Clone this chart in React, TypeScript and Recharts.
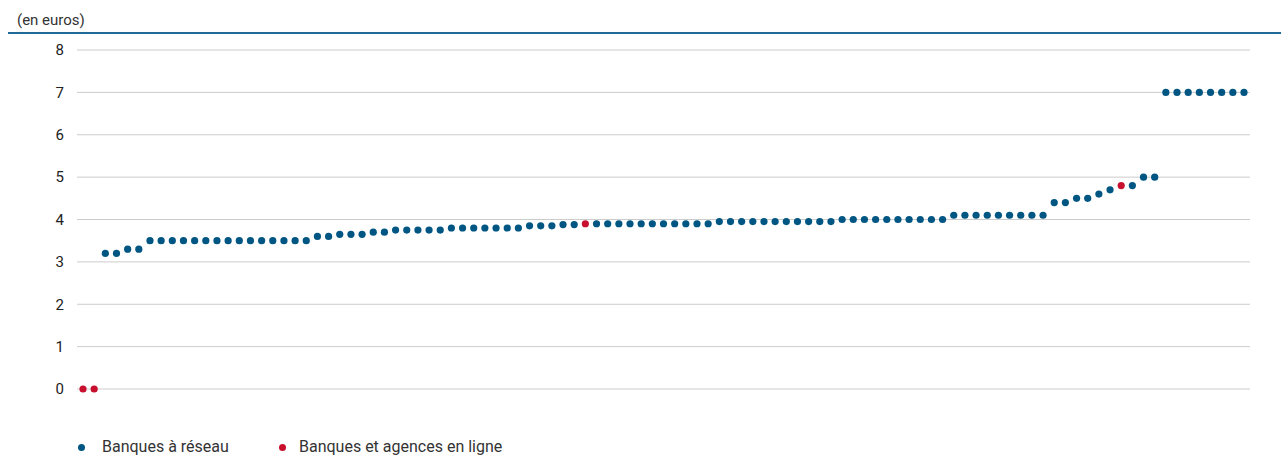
import React from "react";
import { LineChart, Line, XAxis, YAxis, CartesianGrid } from "recharts";

const categories: string[] = Array.from({ length: 105 }, (_, i) => String(i + 1));

const banquesReseau: (number | null)[] = [
  null, null, 3.2, 3.2, 3.3, 3.3,
  3.5, 3.5, 3.5, 3.5, 3.5, 3.5, 3.5, 3.5, 3.5, 3.5, 3.5, 3.5, 3.5, 3.5, 3.5,
  3.6, 3.6, 3.65, 3.65, 3.65, 3.7, 3.7,
  3.75, 3.75, 3.75, 3.75, 3.75,
  3.8, 3.8, 3.8, 3.8, 3.8, 3.8, 3.8,
  3.85, 3.85, 3.85, 3.88, 3.88, null,
  3.9, 3.9, 3.9, 3.9, 3.9, 3.9, 3.9, 3.9, 3.9, 3.9, 3.9,
  3.95, 3.95, 3.95, 3.95, 3.95, 3.95, 3.95, 3.95, 3.95, 3.95, 3.95,
  4.0, 4.0, 4.0, 4.0, 4.0, 4.0, 4.0, 4.0, 4.0, 4.0,
  4.1, 4.1, 4.1, 4.1, 4.1, 4.1, 4.1, 4.1, 4.1,
  4.4, 4.4, 4.5, 4.5, 4.6, 4.7, null, 4.8, 5.0, 5.0,
  7.0, 7.0, 7.0, 7.0, 7.0, 7.0, 7.0, 7.0,
];

const banquesEnLigne: (number | null)[] = [
  0, 0, null, null, null, null,
  null, null, null, null, null, null, null, null, null, null, null, null, null, null, null,
  null, null, null, null, null, null, null,
  null, null, null, null, null,
  null, null, null, null, null, null, null,
  null, null, null, null, null, 3.9,
  null, null, null, null, null, null, null, null, null, null, null,
  null, null, null, null, null, null, null, null, null, null, null,
  null, null, null, null, null, null, null, null, null, null,
  null, null, null, null, null, null, null, null, null,
  null, null, null, null, null, null, 4.8, null, null, null,
  null, null, null, null, null, null, null, null,
];

const yTicks = [0, 1, 2, 3, 4, 5, 6, 7, 8];
const unitLabel = "(en euros)";
const seriesNames = ["Banques à réseau", "Banques et agences en ligne"];

const BLUE = "#005682";
const RED = "#c8102e";

const data = categories.map((c, i) => ({
  name: c,
  reseau: banquesReseau[i],
  enligne: banquesEnLigne[i],
}));

const makeDot = (color: string) => (props: any) => {
  const { cx, cy, value, index } = props;
  if (value === null || value === undefined || cx == null || cy == null) {
    return <g key={`e-${color}-${index}`} />;
  }
  return <circle key={`d-${color}-${index}`} cx={cx} cy={cy} r={3.6} fill={color} stroke="none" />;
};

export default function App() {
  const font = "Roboto, 'Noto Sans', sans-serif";
  return (
    <div style={{ position: "absolute", left: 0, top: 0, width: 1281, height: 455, background: "#fff", fontFamily: font }}>
      <div style={{ position: "absolute", left: 17, top: 11, fontSize: 15, color: "#333", lineHeight: "18px" }}>
        {unitLabel}
      </div>
      <div style={{ position: "absolute", left: 8, top: 32, width: 1273, height: 2, background: "#1f6a96" }} />
      <div style={{ position: "absolute", left: 0, top: 0 }}>
        <LineChart width={1281} height={400} data={data} margin={{ top: 50, right: 31, bottom: 11, left: 0 }}>
          <CartesianGrid vertical={false} stroke="#cccccc" strokeWidth={1} />
          <XAxis dataKey="name" hide padding={{ left: 6, right: 6 }} />
          <YAxis
            domain={[0, 8]}
            ticks={yTicks}
            width={77}
            axisLine={false}
            tickLine={false}
            tickSize={0}
            tickMargin={13}
            tick={{ fill: "#222", fontSize: 15, fontFamily: font }}
            interval={0}
          />
          <Line
            dataKey="reseau"
            stroke="none"
            isAnimationActive={false}
            dot={makeDot(BLUE)}
            activeDot={false}
            connectNulls={false}
          />
          <Line
            dataKey="enligne"
            stroke="none"
            isAnimationActive={false}
            dot={makeDot(RED)}
            activeDot={false}
            connectNulls={false}
          />
        </LineChart>
      </div>
      <div style={{ position: "absolute", left: 78, top: 437, display: "flex", alignItems: "center", fontSize: 16, color: "#333", lineHeight: "20px" }}>
        <span style={{ display: "inline-block", width: 7, height: 7, borderRadius: "50%", background: BLUE, marginRight: 17 }} />
        <span style={{ width: 177 }}>{seriesNames[0]}</span>
        <span style={{ display: "inline-block", width: 7, height: 7, borderRadius: "50%", background: RED, marginRight: 13 }} />
        <span>{seriesNames[1]}</span>
      </div>
    </div>
  );
}
